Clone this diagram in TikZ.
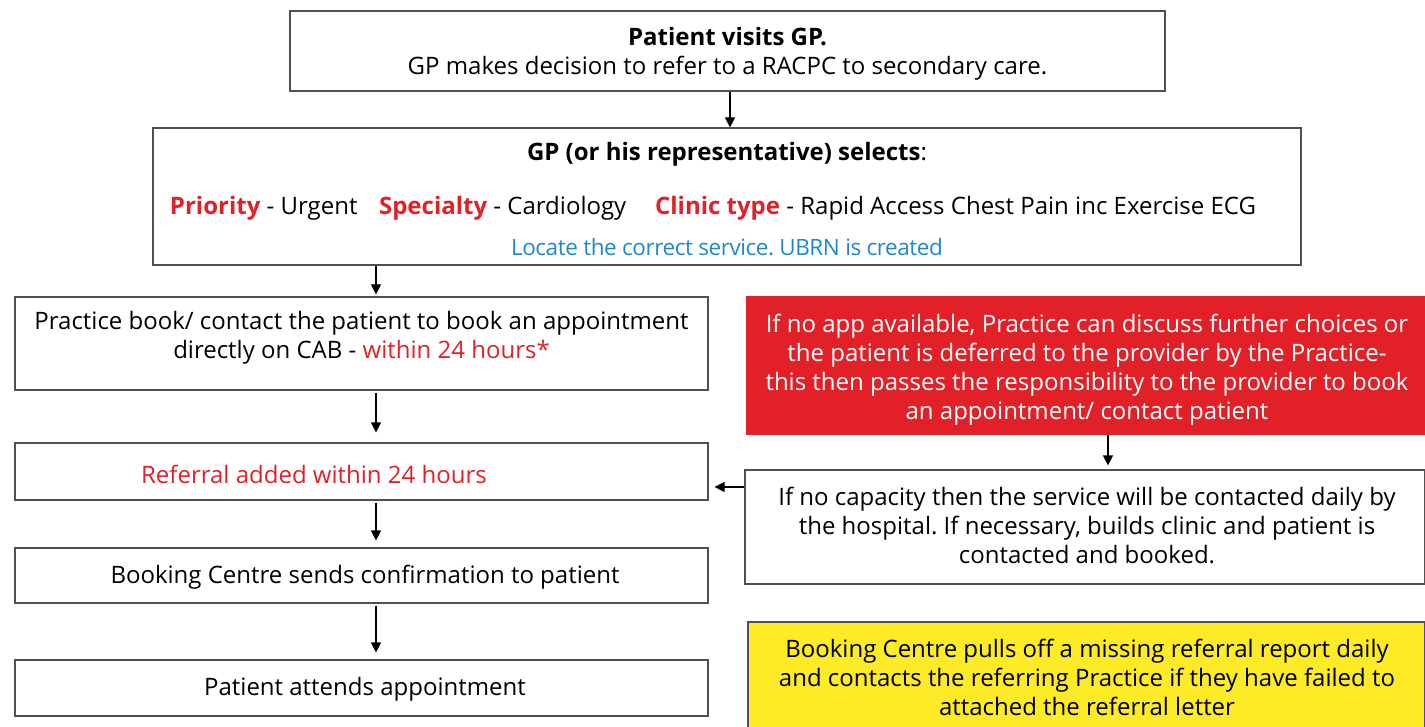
\documentclass[tikz,border=0pt]{standalone}
\usepackage{fontspec}
\setmainfont{Open Sans}
\usetikzlibrary{arrows.meta}
\definecolor{nhsred}{RGB}{225,32,39}
\definecolor{nhsblue}{RGB}{30,136,204}
\definecolor{nhsyellow}{RGB}{253,235,40}
\definecolor{edge}{RGB}{80,80,80}
\frenchspacing
\begin{document}
\begin{tikzpicture}[x=1pt,y=-1pt,
  box/.style={draw=edge, line width=1.2pt, rectangle, inner sep=0pt},
  txt/.style={inner sep=0pt, align=center, font=\fontsize{24}{29}\selectfont},
  arr/.style={-{Triangle[length=10pt,width=10pt]}, line width=1.2pt, black}]
\useasboundingbox (0,0) rectangle (1425,727);
% boxes
\node[box, minimum width=875pt, minimum height=80pt] (b1) at (727.5,51) {};
\node[box, minimum width=1148pt, minimum height=137pt] (b2) at (727,196.5) {};
\node[box, minimum width=693pt, minimum height=93pt] (b3) at (361.5,343.5) {};
\node[box, minimum width=693pt, minimum height=57pt] (b4) at (361.5,471.5) {};
\node[box, minimum width=693pt, minimum height=55pt] (b5) at (361.5,575.5) {};
\node[box, minimum width=693pt, minimum height=56pt] (b6) at (361.5,688) {};
\node[rectangle, fill=nhsred, minimum width=679pt, minimum height=139pt, inner sep=0pt] (r1) at (1085.5,365.5) {};
\node[box, minimum width=680pt, minimum height=114pt] (b7) at (1085,527) {};
\node[box, fill=nhsyellow, minimum width=677pt, minimum height=106pt] (y1) at (1086.5,675) {};
% texts
\node[txt] (t1) at (727.5,53.5) {\textbf{Patient visits GP.}\\GP makes decision to refer to a RACPC to secondary care.};
\node[txt] (t2a) at (727,154.5) {\textbf{GP (or his representative) selects}:};
\node[txt] (t2b) at (713,208.5) {\textcolor{nhsred}{\textbf{Priority}} - Urgent\hspace{0.9em}\textcolor{nhsred}{\textbf{Specialty}} - Cardiology\hspace{1.2em}\textcolor{nhsred}{\textbf{Clinic type}} - Rapid Access Chest Pain inc Exercise ECG};
\node[txt, text=nhsblue, font=\fontsize{22.5}{29}\selectfont\addfontfeature{LetterSpace=-2}] (t2c) at (727,247.5) {Locate the correct service. UBRN is created};
\node[txt] (t3) at (361.5,338) {Practice book/ contact the patient to book an appointment\\directly on CAB - \textcolor{nhsred}{within 24 hours*}};
\node[txt, text=nhsred] (t4) at (314,474.5) {Referral added within 24 hours};
\node[txt] (t5) at (365,577.5) {Booking Centre sends confirmation to patient};
\node[txt] (t6) at (365,689.5) {Patient attends appointment};
\node[txt, text=white] (tr) at (1087,370) {If no app available, Practice can discuss further choices or\\the patient is deferred to the provider by the Practice-\\this then passes the responsibility to the provider to book\\an appointment/ contact patient};
\node[txt] (t7) at (1087,525.5) {If no capacity then the service will be contacted daily by\\the hospital. If necessary, builds clinic and patient is\\contacted and booked.};
\node[txt] (ty) at (1087,677) {Booking Centre pulls off a missing referral report daily\\and contacts the referring Practice if they have failed to\\attached the referral letter};
% connectors
\coordinate (cx1) at (730,0);
\coordinate (cx2) at (376,0);
\coordinate (cx3) at (1108,0);
\coordinate (cy7) at (0,487);
\draw[arr] (b1.south -| cx1) -- (b2.north -| cx1);
\draw[arr, shorten >=2pt] (b2.south -| cx2) -- (b3.north -| cx2);
\draw[arr, shorten <=2pt, shorten >=10pt] (b3.south -| cx2) -- (b4.north -| cx2);
\draw[arr, shorten <=2pt, shorten >=7pt] (b4.south -| cx2) -- (b5.north -| cx2);
\draw[arr, shorten <=2pt, shorten >=7pt] (b5.south -| cx2) -- (b6.north -| cx2);
\draw[arr, shorten >=4pt] (r1.south -| cx3) -- (b7.north -| cx3);
\draw[arr, shorten >=6pt] (b7.west |- cy7) -- (b4.east |- cy7);
\end{tikzpicture}
\end{document}
